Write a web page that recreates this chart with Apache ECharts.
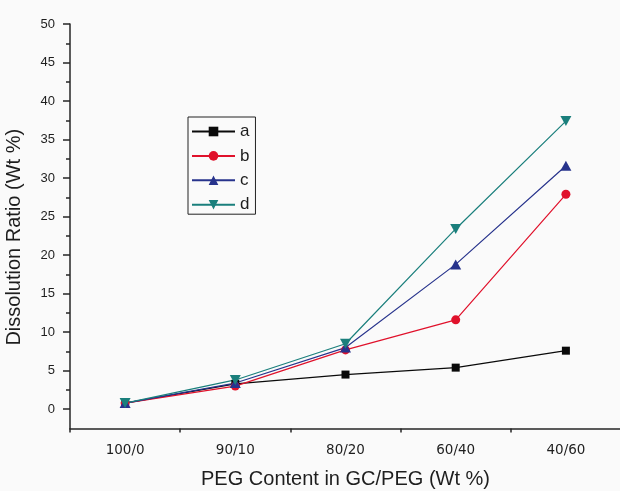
<!DOCTYPE html>
<html>
<head>
<meta charset="utf-8">
<script src="https://cdn.jsdelivr.net/npm/echarts@6/dist/echarts.min.js"></script>
<style>
  html, body { margin: 0; padding: 0; background: #fafafa; }
  #chart { width: 620px; height: 491px; }
</style>
</head>
<body>
<div id="chart"></div>
<script>
// PEG content categories (GC/PEG weight ratio)
const categories = ['100/0', '90/10', '80/20', '60/40', '40/60'];

// Dissolution ratio (Wt %) for the four samples
const seriesA = [0.8, 3.3, 4.5, 5.4, 7.6];
const seriesB = [0.8, 3.0, 7.7, 11.6, 27.9];
const seriesC = [0.8, 3.4, 8.0, 18.8, 31.6];
const seriesD = [0.8, 3.8, 8.5, 23.4, 37.4];

// Y axis labelled ticks and the unlabelled half-step ticks between them
const yMajorTicks = [0, 5, 10, 15, 20, 25, 30, 35, 40, 45, 50];
const yMinorTicks = [2.5, 7.5, 12.5, 17.5, 22.5, 27.5, 32.5, 37.5, 42.5, 47.5];

const axisColor = '#262626';
const textColor = '#1e1e1e';

const chart = echarts.init(document.getElementById('chart'), null, { renderer: 'canvas' });

function lineSeries(name, data, color, symbol, size, rotate) {
  return {
    name: name,
    type: 'line',
    data: data,
    xAxisIndex: 0,
    yAxisIndex: 0,
    symbol: symbol,
    symbolSize: size,
    symbolRotate: rotate || 0,
    showAllSymbol: true,
    lineStyle: { color: color, width: 1.2 },
    itemStyle: { color: color, borderWidth: 0 },
    emphasis: { disabled: true },
    animation: false
  };
}

chart.setOption({
  backgroundColor: '#fafafa',
  animation: false,
  grid: { left: 70, right: -1, top: 24, bottom: 62.5, containLabel: false, outerBoundsMode: 'none' },
  legend: {
    orient: 'vertical',
    left: 188,
    top: 117,
    padding: [6, 6, 1, 3],
    itemWidth: 43,
    itemHeight: 12,
    itemGap: 7.4,
    borderColor: '#222',
    borderWidth: 1,
    textStyle: { fontFamily: 'Liberation Sans', fontSize: 17, lineHeight: 16, color: textColor },
    data: ['a', 'b', 'c', 'd']
  },
  xAxis: [
    {
      type: 'category',
      data: categories,
      boundaryGap: true,
      position: 'bottom',
      name: 'PEG Content in GC/PEG (Wt %)',
      nameLocation: 'middle',
      nameGap: 41,
      nameTextStyle: { fontFamily: 'Liberation Sans', fontSize: 20, color: textColor },
      axisLine: { onZero: false, lineStyle: { color: axisColor, width: 1.5 } },
      axisTick: { alignWithLabel: true, length: 7, lineStyle: { color: axisColor, width: 1.5 } },
      axisLabel: { margin: 15, fontFamily: 'DejaVu Sans', fontSize: 13.5, color: textColor },
      splitLine: { show: false }
    },
    {
      // boundary ticks between the categories
      type: 'category',
      data: categories,
      boundaryGap: true,
      position: 'bottom',
      axisLine: { show: false, onZero: false },
      axisTick: { show: true, alignWithLabel: false, length: 4, lineStyle: { color: axisColor, width: 1.5 } },
      axisLabel: { show: false },
      splitLine: { show: false }
    }
  ],
  yAxis: [
    {
      type: 'value',
      min: -2.5,
      max: 50,
      interval: 2.5,
      name: 'Dissolution Ratio (Wt %)',
      nameLocation: 'middle',
      nameGap: 46,
      nameRotate: 90,
      nameTextStyle: { fontFamily: 'Liberation Sans', fontSize: 20, color: textColor, padding: [0, 22, 0, 0] },
      axisLine: { show: true, onZero: false, lineStyle: { color: axisColor, width: 1.5 } },
      axisTick: { show: true, length: 7, customValues: yMajorTicks, lineStyle: { color: axisColor, width: 1.5 } },
      axisLabel: { margin: 15, customValues: yMajorTicks, fontFamily: 'Liberation Sans', fontSize: 13, color: textColor },
      splitLine: { show: false }
    },
    {
      // half-step ticks
      type: 'value',
      min: -2.5,
      max: 50,
      interval: 2.5,
      position: 'left',
      axisLine: { show: false, onZero: false },
      axisTick: { show: true, length: 4, customValues: yMinorTicks, lineStyle: { color: axisColor, width: 1.5 } },
      axisLabel: { show: false },
      splitLine: { show: false }
    }
  ],
  series: [
    lineSeries('a', seriesA, '#0a0a0a', 'rect', 8),
    lineSeries('b', seriesB, '#e0112b', 'circle', 9),
    lineSeries('c', seriesC, '#27338c', 'triangle', [11, 10]),
    lineSeries('d', seriesD, '#1a7f7c', 'triangle', [11, 10], 180)
  ]
});
</script>
</body>
</html>
